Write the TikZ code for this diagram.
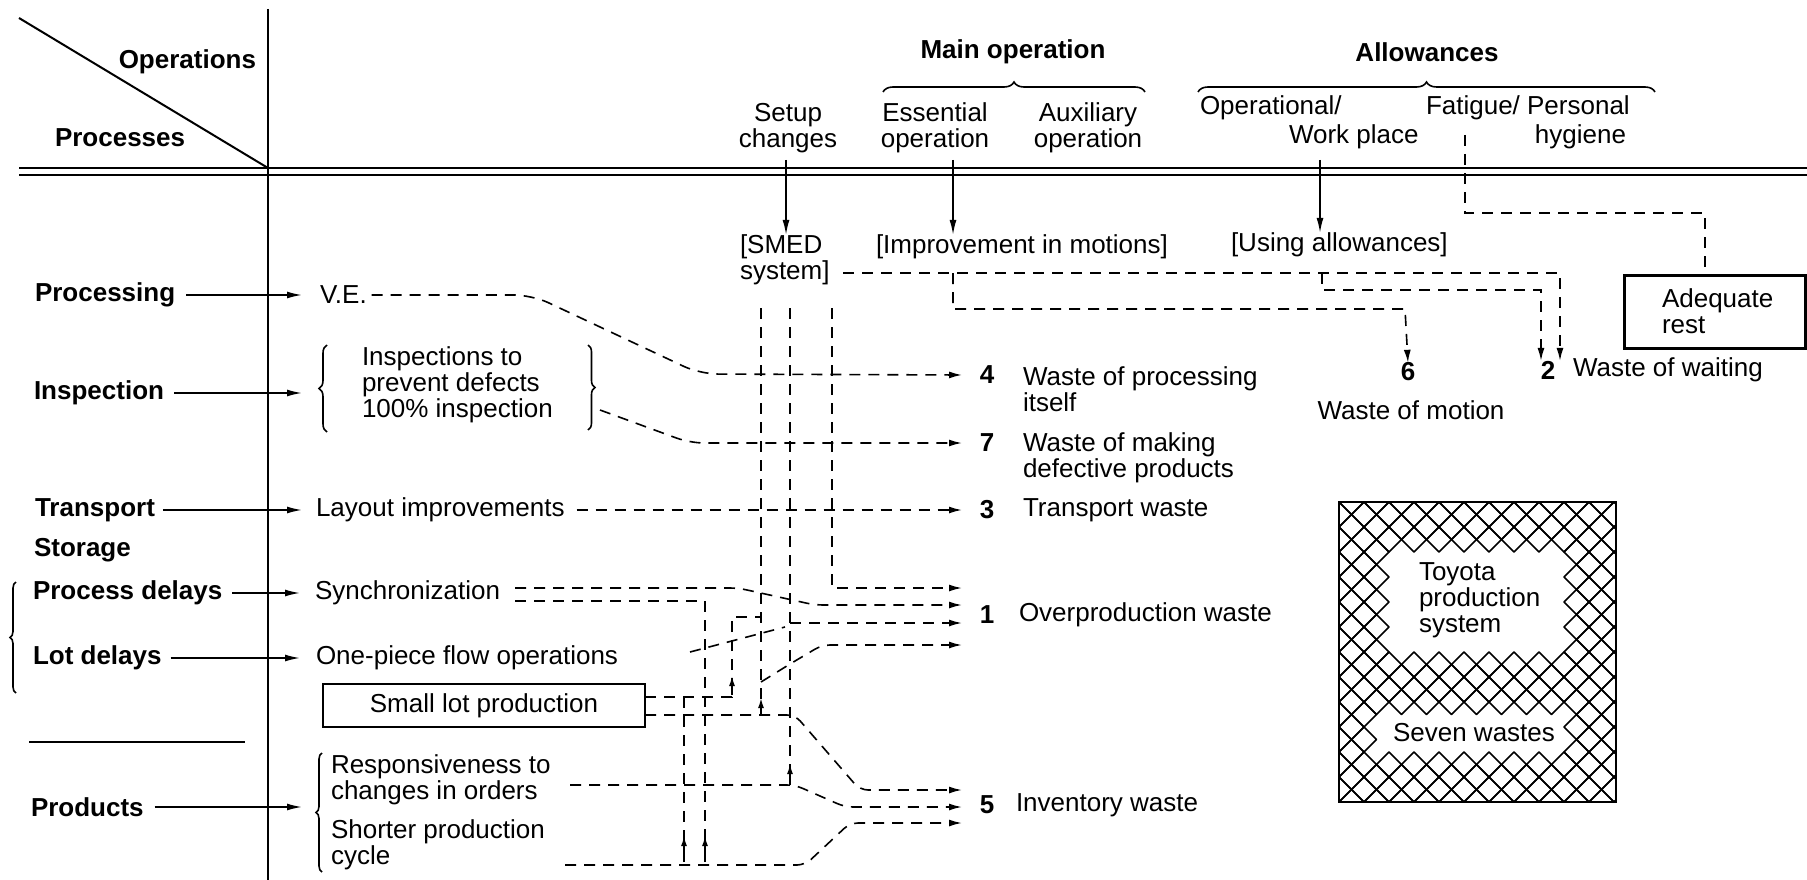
\documentclass[tikz,border=0pt]{standalone}
\usepackage{fontspec}
\setmainfont{Liberation Sans}
\usetikzlibrary{arrows.meta,decorations.pathreplacing,calc}

\begin{document}
\begin{tikzpicture}[x=1pt,y=-1pt,
  every node/.style={font=\fontsize{26}{26}\selectfont, inner sep=0pt, outer sep=0pt},
  hd/.style={font=\fontsize{26}{26}\selectfont\bfseries},
  rule/.style={line width=2pt},
  feed/.style={line width=1.6pt,-{Latex[length=15pt,width=7pt]}},
  dashln/.style={line width=1.6pt, dash pattern=on 11pt off 8pt},
  dashar/.style={dashln,-{Latex[length=13pt,width=7pt]}},
  upmark/.style={line width=1.6pt,-{Latex[length=10pt,width=6pt]}},
  brc/.style={decorate, decoration={brace, amplitude=#1}, line width=1.6pt},
  hatchln/.style={line width=1.6pt, line join=round},
]
\useasboundingbox (0,0) rectangle (1807,880);

% ---------- table frame ----------
\coordinate (corner) at (268,168);
\coordinate (diagtop) at (19,18);
\draw[rule] (diagtop) -- (corner);
\draw[rule] (268,9) -- (268,880);
\draw[rule] (19,168) -- (1807,168);
\draw[rule] (19,175) -- (1807,175);

% ---------- column heads ----------
\node[hd, anchor=east] (ops) at (256,62) {Operations};
\node[hd, anchor=west] (procs) at (55,138) {Processes};
\node[hd] (mainop) at (1013,52) {Main operation};
\node[hd] (allow) at (1427,52) {Allowances};
\draw[brc=10] (883,92) -- (1145,92);
\draw[brc=10] (1198,92) -- (1655,92);
\node[align=center] (setup) at (788,128) {Setup\\changes};
\node[align=center] (essop) at (935,128) {Essential\\operation};
\node[align=center] (auxop) at (1088,128) {Auxiliary\\operation};
\node[anchor=west] (opl) at (1200,108) {Operational/};
\node[anchor=west] (wp) at (1289,137) {Work place};
\node[anchor=west] (fat) at (1426,108) {Fatigue/ Personal};
\node[anchor=east] (hyg) at (1626,137) {hygiene};

% ---------- improvement measures ----------
\node[anchor=west, align=left] (smed) at (740,260) {[SMED\\system]};
\node[anchor=west] (motions) at (876,247) {[Improvement in motions]};
\node[anchor=west] (allowuse) at (1231,245) {[Using allowances]};

\draw[feed] (786,160) -- (smed.north -| 786,0);
\draw[feed] (953,160) -- (motions.north -| 953,0);
\draw[feed] (1320,160) -- (allowuse.north -| 1320,0);

% ---------- adequate rest ----------
\node[draw, line width=3pt, minimum width=181pt, minimum height=73pt, anchor=north west] (restbox) at (1624,275) {};
\node[anchor=west, align=left] (rest) at (1662,311) {Adequate\\rest};
\draw[dashln] (1465,135) -- (1465,213) -- (1705,213) -- (restbox.north -| 1705,0);

% ---------- process rows ----------
\node[hd, anchor=west] (processing) at (35,295) {Processing};
\node[anchor=west] (ve) at (320,295) {V.E.};
\node[hd, anchor=west] (inspection) at (34,393) {Inspection};
\node[anchor=west, align=left] (insp) at (362,385) {Inspections to\\prevent defects\\100\% inspection};
\draw[brc=8] (327,432) -- (327,345);
\draw[brc=7] (588,345) -- (588,430);
\node[hd, anchor=west] (transport) at (35,510) {Transport};
\node[anchor=west] (layout) at (316,510) {Layout improvements};
\node[hd, anchor=west] (storage) at (34,550) {Storage};
\node[hd, anchor=west] (pdelay) at (33,593) {Process delays};
\node[anchor=west] (sync) at (315,593) {Synchronization};
\node[hd, anchor=west] (ldelay) at (33,658) {Lot delays};
\node[anchor=west] (onepiece) at (316,658) {One-piece flow operations};
\draw[brc=6] (16,693) -- (16,582);
\node[draw, line width=2.5pt, minimum width=322pt, minimum height=43pt] (smalllot) at (484,705.5) {Small lot production};
\draw[rule] (29,742) -- (245,742);
\node[hd, anchor=west] (products) at (31,807) {Products};
\node[anchor=west, align=left] (resp) at (331,780) {Responsiveness to\\changes in orders};
\node[anchor=west, align=left] (shorter) at (331,845) {Shorter production\\cycle};
\draw[brc=6] (322,872) -- (322,753);

\draw[feed] ([xshift=11pt]processing.east) -- ([xshift=-18pt]ve.west);
\draw[feed] ([xshift=10pt]inspection.east) -- (302,393);
\draw[feed] ([xshift=8pt]transport.east) -- ([xshift=-14pt]layout.west);
\draw[feed] ([xshift=10pt]pdelay.east) -- ([xshift=-15pt]sync.west);
\draw[feed] ([xshift=9pt]ldelay.east) -- ([xshift=-16pt]onepiece.west);
\draw[feed] ([xshift=11pt]products.east) -- (302,807);

% ---------- wastes ----------
\node[hd] (n4) at (987,375) {4};
\node[anchor=west, align=left] (w4) at (1023,389) {Waste of processing\\itself};
\node[hd] (n7) at (987,443) {7};
\node[anchor=west, align=left] (w7) at (1023,458) {Waste of making\\defective products};
\node[hd] (n3) at (987,510) {3};
\node[anchor=west] (w3) at (1023,510) {Transport waste};
\node[hd] (n1) at (987,615) {1};
\node[anchor=west] (w1) at (1019,615) {Overproduction waste};
\node[hd] (n5) at (987,805) {5};
\node[anchor=west] (w5) at (1016,805) {Inventory waste};
\node[hd] (n6) at (1408,372) {6};
\node (w6) at (1411,410) {Waste of motion};
\node[hd] (n2) at (1548,370) {2};
\node[anchor=west] (w2) at (1573,370) {Waste of waiting};

\coordinate (tip4) at (962,375);
\coordinate (tip7) at (962,443);
\coordinate (tip3) at (962,510);
\coordinate (tip1a) at (962,588);
\coordinate (tip1b) at (962,605);
\coordinate (tip1c) at (962,623);
\coordinate (tip1d) at (962,645);
\coordinate (tip5a) at (962,790);
\coordinate (tip5b) at (962,807);
\coordinate (tip5c) at (962,823);

% ---------- dashed links ----------
% from the SMED system towards wastes 6 and 2
\coordinate (smedout) at (843,273);
\draw[dashar] (smedout) -- (1560,273) -- (n2.north -| 1560,0);
\draw[dashar] (953,273) -- (953,309) -- (1405,309) -- (n6.north);
\draw[dashar] (1322,273) -- (1322,290) -- (1541,290) -- (n2.north -| 1541,0);

% V.E., inspections, layout
\draw[dashar, rounded corners=18pt] ([xshift=5pt]ve.east) -- (532,295) -- (700,374) -- (tip4);
\draw[dashar, rounded corners=14pt] (600,410) -- (690,443) -- (tip7);
\draw[dashar] ([xshift=12pt]layout.east) -- (tip3);

% SMED verticals
\draw[dashln] (761,308) -- (761,715);
\draw[dashln] (790,308) -- (790,785);
\draw[dashar] (832,308) -- (832,588) -- (tip1a);

% synchronization
\coordinate (sy1) at (515,588);
\coordinate (sy2) at (515,601);
\draw[dashar, rounded corners=8pt] (sy1) -- (738,588) -- (815,605) -- (tip1b);
\draw[dashln] (sy2) -- (705,601) -- (705,860);

% one-piece flow, overproduction branches
\draw[dashln] (690,652) -- (785,627);
\draw[dashar] (790,623) -- (tip1c);
\draw[dashar, rounded corners=8pt] (761,682) -- (790,664) -- (822,645) -- (tip1d);

% small lot production
\draw[dashln] (smalllot.east |- 0,697) -- (732,697) -- (732,617) -- (761,617);
\draw[upmark] (732,695) -- (732,676);
\draw[dashar, rounded corners=8pt] (smalllot.east |- 0,715) -- (795,715) -- (860,790) -- (tip5a);
\draw[upmark] (761,714) -- (761,698);
\draw[dashln] (684,697) -- (684,845);

% responsiveness and shorter cycle
\coordinate (rs1) at (570,785);
\draw[dashar, rounded corners=8pt] (rs1) -- (795,785) -- (845,807) -- (tip5b);
\draw[upmark] (790,783) -- (790,764);
\coordinate (sh1) at (565,865);
\draw[dashar, rounded corners=8pt] (sh1) -- (805,865) -- (850,823) -- (tip5c);
\draw[upmark] (684,862) -- (684,836);
\draw[upmark] (705,862) -- (705,836);

% ---------- Toyota production system panel ----------
% cross-hatched field built from diamond cells; the cells behind the
% two captions are left out so the open areas get stepped edges
\begin{scope}
  \clip (1339,502) rectangle (1616,802);
  \foreach \m in {-1,...,23} {
    \foreach \n in {-1,...,25} {
      \pgfmathtruncatemacro\cellodd{mod(\m+\n+100,2)}
      \pgfmathtruncatemacro\inA{and(and(\m>=4,\m<=18),and(\n>=4,\n<=12))}
      \pgfmathtruncatemacro\inB{and(and(\m>=3,\m<=18),and(\n>=17,\n<=20))}
      \ifnum\cellodd=1
        \ifnum\inA=0
          \ifnum\inB=0
            \draw[hatchln] (1339+12.5*\m,502+12.5*\n) +(-12.5,0) -- +(0,-12.5) -- +(12.5,0) -- +(0,12.5) -- cycle;
          \fi
        \fi
      \fi
    }
  }
\end{scope}
\draw[line width=2.5pt] (1339,502) rectangle (1616,802);
\node[anchor=west, align=left] (tps) at (1419,600) {Toyota\\production\\system};
\node (seven) at (1474,733) {Seven wastes};

\end{tikzpicture}
\end{document}
